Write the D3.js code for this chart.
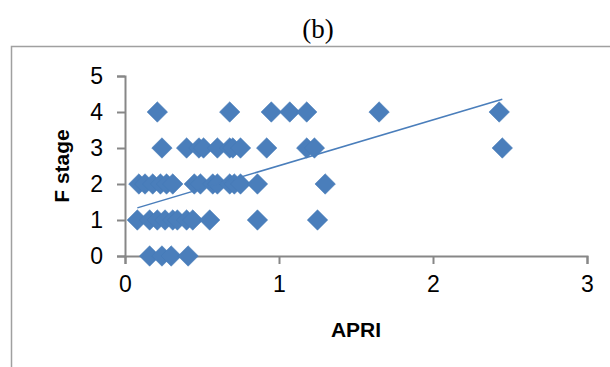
<!DOCTYPE html>
<html>
<head>
<meta charset="utf-8">
<script src="https://cdn.jsdelivr.net/npm/d3@7"></script>
<style>
    body { margin: 0; background: white; }
    svg { display: block; }
</style>
</head>
<body>
<div id="graphContainer"></div>
<script>
// APRI values, grouped by F stage
const stage4 = [0.21, 0.68, 0.95, 1.07, 1.18, 1.65, 2.43];
const stage3 = [0.24, 0.40, 0.48, 0.51, 0.60, 0.68, 0.70, 0.75, 0.92, 1.18, 1.23, 2.45];
const stage2 = [0.09, 0.13, 0.18, 0.23, 0.27, 0.31, 0.45, 0.49, 0.57, 0.60, 0.68, 0.71, 0.75, 0.86, 1.30];
const stage1 = [0.08, 0.16, 0.21, 0.26, 0.31, 0.34, 0.40, 0.44, 0.55, 0.86, 1.25];
const stage0 = [0.16, 0.24, 0.30, 0.41];

const xTicks = [0, 1, 2, 3];
const yTicks = [0, 1, 2, 3, 4, 5];

// linear trendline as it reads off the picture
const trendSlope = 1.273;
const trendIntercept = 1.235;

drawGraph();

function drawGraph() {
    const width = 610;
    const height = 367;
    const blue = '#4A7EBB';
    const axisColor = '#878787';

    const svg = d3.select('#graphContainer')
        .append('svg')
        .attr('width', width)
        .attr('height', height);

    // chart area border (runs off the right and bottom)
    svg.append('rect')
        .attr('x', 11.5)
        .attr('y', 46.5)
        .attr('width', 700)
        .attr('height', 400)
        .attr('fill', 'none')
        .attr('stroke', '#a0a0a0')
        .attr('stroke-width', 1.5);

    svg.append('text')
        .attr('x', 318)
        .attr('y', 38)
        .attr('text-anchor', 'middle')
        .style('font-family', '"Liberation Serif", "Times New Roman", serif')
        .style('font-size', '27px')
        .text('(b)');

    const x = d3.scaleLinear().domain([0, 3]).range([125, 587]);
    const y = d3.scaleLinear().domain([0, 5]).range([256, 76]);

    const points = [];
    [stage0, stage1, stage2, stage3, stage4].forEach(function (vals, stage) {
        vals.forEach(function (v) {
            points.push({ apri: v, stage: stage });
        });
    });

    const xAxis = svg.append('g')
        .attr('transform', 'translate(0,' + y(0) + ')')
        .call(d3.axisBottom(x).tickValues(xTicks).tickSize(8).tickPadding(12).tickFormat(d3.format('d')));

    const yAxis = svg.append('g')
        .attr('transform', 'translate(' + x(0) + ',0)')
        .call(d3.axisLeft(y).tickValues(yTicks).tickSize(8).tickPadding(14).tickFormat(d3.format('d')));

    [xAxis, yAxis].forEach(function (ax) {
        ax.selectAll('path, line')
            .attr('stroke', axisColor)
            .attr('stroke-width', 2);
        ax.selectAll('text')
            .attr('fill', 'black')
            .style('font-family', '"Liberation Sans", Arial, sans-serif')
            .style('font-size', '23px');
    });

    svg.append('text')
        .attr('x', 356)
        .attr('y', 337)
        .attr('text-anchor', 'middle')
        .style('font-family', '"Liberation Sans", Arial, sans-serif')
        .style('font-weight', 'bold')
        .style('font-size', '21px')
        .text('APRI');

    svg.append('text')
        .attr('transform', 'translate(69,166) rotate(-90)')
        .attr('text-anchor', 'middle')
        .style('font-family', '"Liberation Sans", Arial, sans-serif')
        .style('font-weight', 'bold')
        .style('font-size', '21px')
        .text('F stage');

    const diamond = d3.symbol().type(d3.symbolSquare).size(210);

    svg.append('g')
        .selectAll('path')
        .data(points)
        .enter()
        .append('path')
        .attr('d', diamond)
        .attr('transform', function (d) {
            return 'translate(' + x(d.apri) + ',' + y(d.stage) + ') rotate(45)';
        })
        .attr('fill', blue)
        .attr('stroke', '#4579b6')
        .attr('stroke-width', 0.5);

    const xExtent = d3.extent(points, function (d) { return d.apri; });
    svg.append('line')
        .attr('x1', x(xExtent[0]))
        .attr('y1', y(trendIntercept + trendSlope * xExtent[0]))
        .attr('x2', x(xExtent[1]))
        .attr('y2', y(trendIntercept + trendSlope * xExtent[1]))
        .attr('stroke', blue)
        .attr('stroke-width', 1.5);
}
</script>
</body>
</html>
